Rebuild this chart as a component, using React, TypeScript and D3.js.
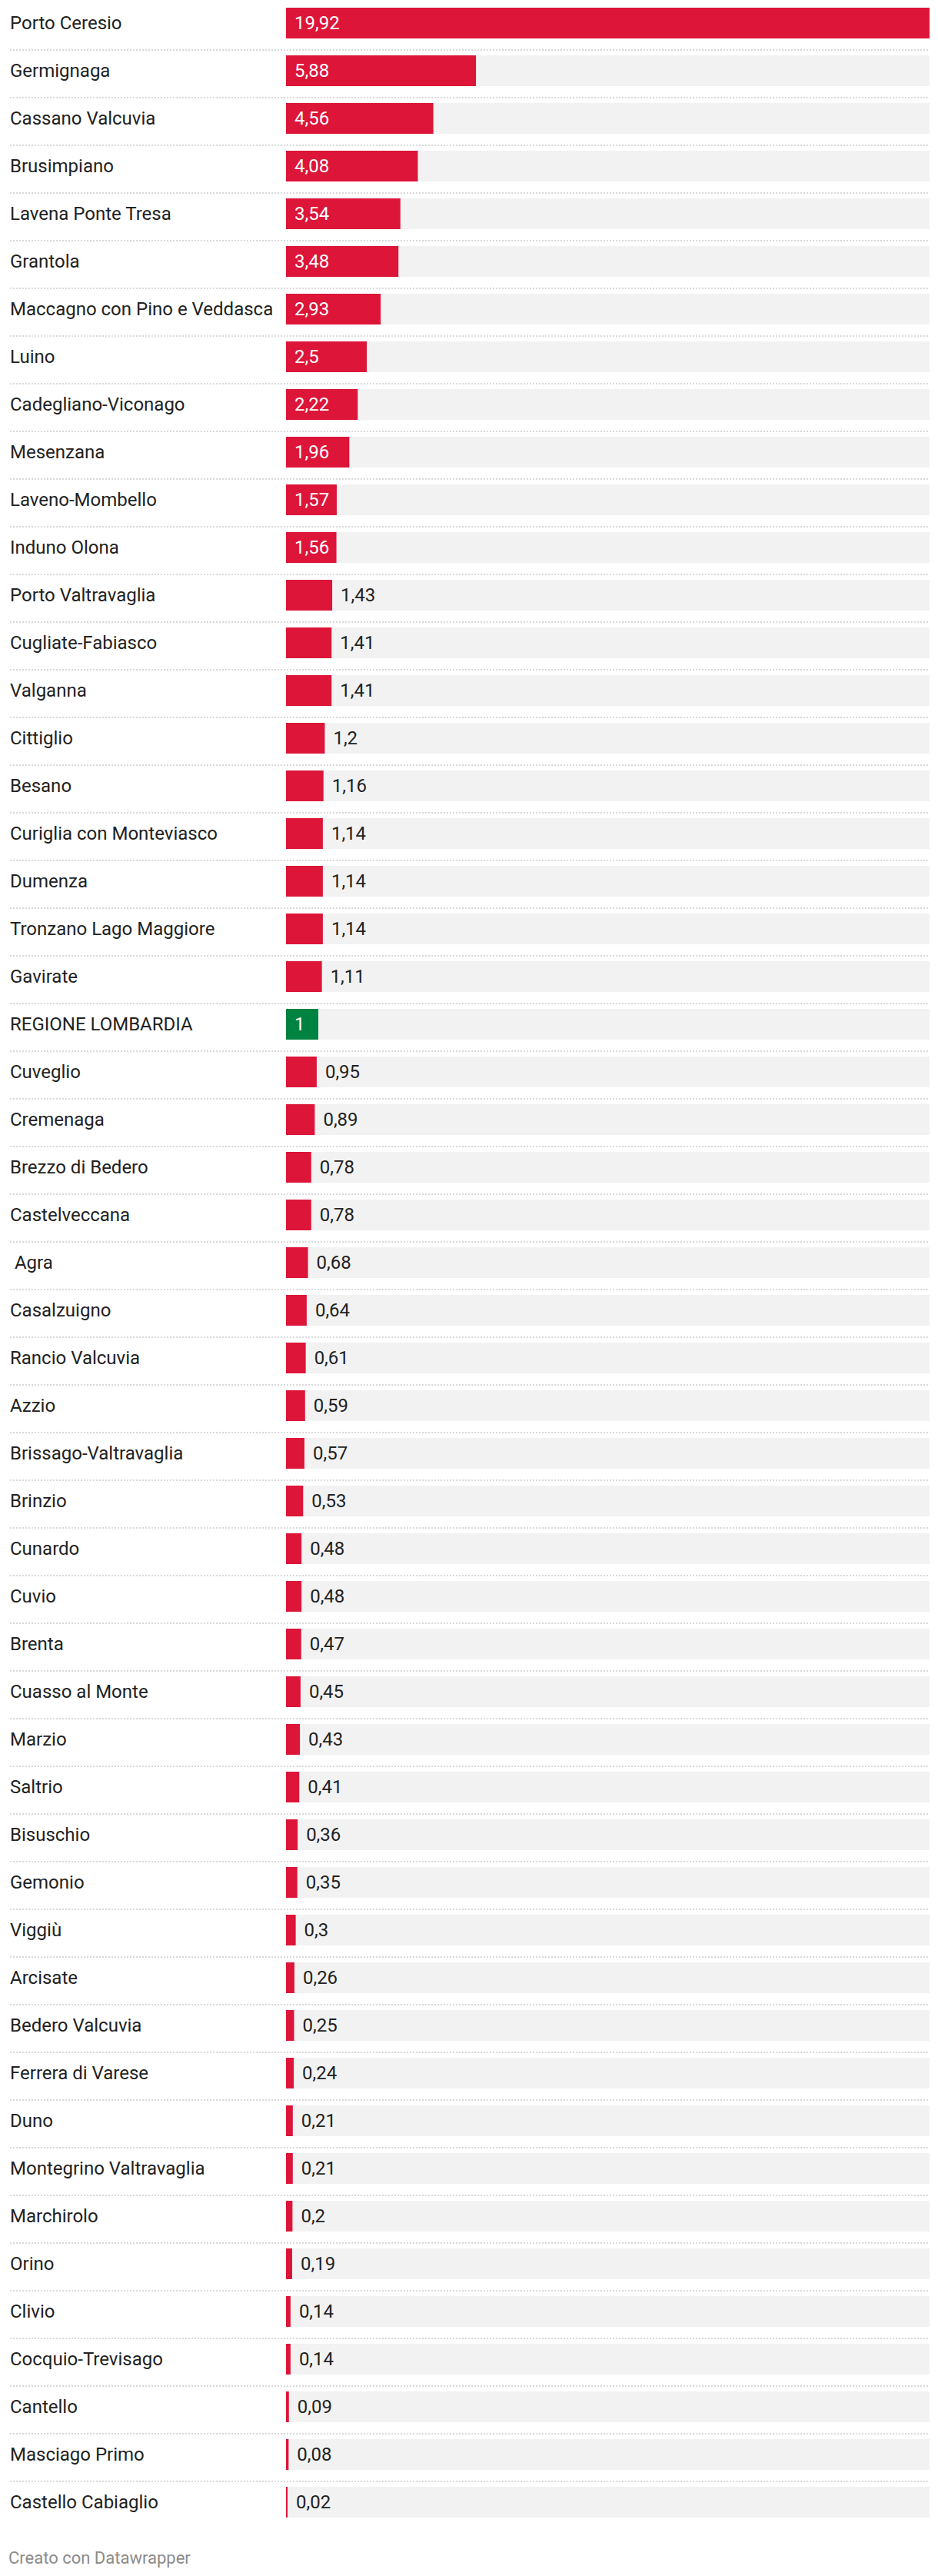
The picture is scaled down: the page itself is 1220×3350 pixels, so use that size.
import React from "react";
import * as d3 from "d3";

const categories: string[] = [
  "Porto Ceresio", "Germignaga", "Cassano Valcuvia", "Brusimpiano", "Lavena Ponte Tresa",
  "Grantola", "Maccagno con Pino e Veddasca", "Luino", "Cadegliano-Viconago", "Mesenzana",
  "Laveno-Mombello", "Induno Olona", "Porto Valtravaglia", "Cugliate-Fabiasco", "Valganna",
  "Cittiglio", "Besano", "Curiglia con Monteviasco", "Dumenza", "Tronzano Lago Maggiore",
  "Gavirate", "REGIONE LOMBARDIA", "Cuveglio", "Cremenaga", "Brezzo di Bedero",
  "Castelveccana", " Agra", "Casalzuigno", "Rancio Valcuvia", "Azzio",
  "Brissago-Valtravaglia", "Brinzio", "Cunardo", "Cuvio", "Brenta",
  "Cuasso al Monte", "Marzio", "Saltrio", "Bisuschio", "Gemonio",
  "Viggiù", "Arcisate", "Bedero Valcuvia", "Ferrera di Varese", "Duno",
  "Montegrino Valtravaglia", "Marchirolo", "Orino", "Clivio", "Cocquio-Trevisago",
  "Cantello", "Masciago Primo", "Castello Cabiaglio",
];

const values: number[] = [
  19.92, 5.88, 4.56, 4.08, 3.54,
  3.48, 2.93, 2.5, 2.22, 1.96,
  1.57, 1.56, 1.43, 1.41, 1.41,
  1.2, 1.16, 1.14, 1.14, 1.14,
  1.11, 1, 0.95, 0.89, 0.78,
  0.78, 0.68, 0.64, 0.61, 0.59,
  0.57, 0.53, 0.48, 0.48, 0.47,
  0.45, 0.43, 0.41, 0.36, 0.35,
  0.3, 0.26, 0.25, 0.24, 0.21,
  0.21, 0.2, 0.19, 0.14, 0.14,
  0.09, 0.08, 0.02,
];

const highlighted: string[] = ["REGIONE LOMBARDIA"];

const footerText = "Creato con Datawrapper";

const W = 1220;
const H = 3350;
const LABEL_X = 13;
const BAR_X0 = 372;
const BAR_X1 = 1209;
const TOP = 4;
const PITCH = 62;
const BAR_H = 40;
const FS = 24;

const fmt = (v: number) => String(v).replace(".", ",");

function textWidth(s: string, fs: number) {
  let w = 0;
  for (const ch of s) w += ch === "," ? 0.2 : 0.5625;
  return w * fs;
}

export default function App() {
  const y = d3
    .scaleBand<string>()
    .domain(categories.map((c, i) => i + ""))
    .range([TOP, TOP + PITCH * categories.length])
    .paddingInner(0)
    .paddingOuter(0);
  const x = d3.scaleLinear().domain([0, d3.max(values) as number]).range([BAR_X0, BAR_X1]);

  return (
    <div style={{ position: "absolute", left: 0, top: 0 }}>
      <svg width={W} height={H} style={{ display: "block", fontFamily: "Roboto, sans-serif" }}>
        <rect x={0} y={0} width={W} height={H} fill="#ffffff" />
        {categories.map((c, i) => {
          const v = values[i];
          const rowY = y(i + "") as number;
          const barY = rowY + 6;
          const w = Math.max(x(v) - BAR_X0, 2);
          const label = fmt(v);
          const tw = textWidth(label, 23);
          const inside = tw + 22 <= w;
          const color = highlighted.includes(c) ? "#008240" : "#dc1539";
          const cy = barY + BAR_H / 2;
          return (
            <g key={i}>
              <text
                x={LABEL_X}
                y={cy}
                dy="0.35em"
                fontSize={FS}
                fill="#222"
                style={{ whiteSpace: "pre" }}
              >
                {c}
              </text>
              <rect x={BAR_X0} y={barY} width={BAR_X1 - BAR_X0} height={BAR_H} fill="#f2f2f2" />
              <rect x={BAR_X0} y={barY} width={w} height={BAR_H} fill={color} />
              <text
                x={inside ? BAR_X0 + 11 : BAR_X0 + w + 11}
                y={cy}
                dy="0.35em"
                fontSize={FS}
                fill={inside ? "#ffffff" : "#222"}
              >
                {label}
              </text>
              {i < categories.length - 1 && (
                <line
                  x1={LABEL_X}
                  x2={BAR_X1}
                  y1={rowY + PITCH - 1}
                  y2={rowY + PITCH - 1}
                  stroke="#d9d9d9"
                  strokeWidth={2}
                  strokeDasharray="2 2"
                />
              )}
            </g>
          );
        })}
        <text x={11} y={3334} fontSize={22} fill="#8c8c8c">
          {footerText}
        </text>
      </svg>
    </div>
  );
}
